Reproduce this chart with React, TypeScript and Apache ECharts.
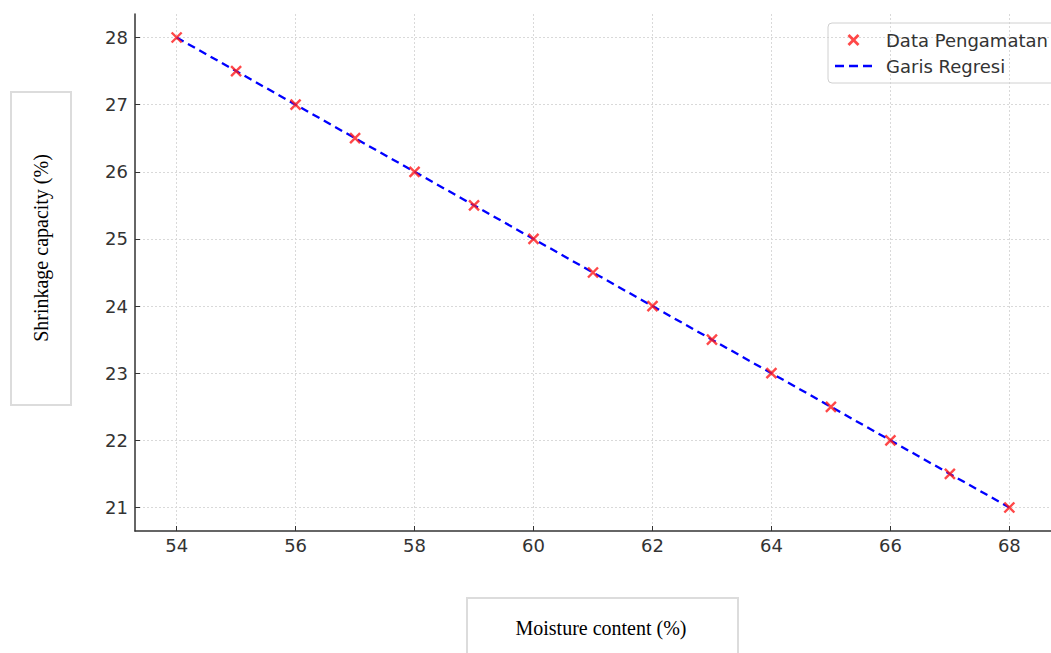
import React, { useEffect, useRef } from "react";
import * as echarts from "echarts";

const moisture = [54, 55, 56, 57, 58, 59, 60, 61, 62, 63, 64, 65, 66, 67, 68];
const shrinkage = [28, 27.5, 27, 26.5, 26, 25.5, 25, 24.5, 24, 23.5, 23, 22.5, 22, 21.5, 21];
const regression = [28, 27.5, 27, 26.5, 26, 25.5, 25, 24.5, 24, 23.5, 23, 22.5, 22, 21.5, 21];
const xTicks = [54, 56, 58, 60, 62, 64, 66, 68];
const yTicks = [21, 22, 23, 24, 25, 26, 27, 28];

const xLabel = "Moisture content (%)";
const yLabel = "Shrinkage capacity (%)";
const seriesNames = ["Data Pengamatan", "Garis Regresi"];

const crossPath = "path://M0,0L10,10M10,0L0,10";
const crossIcon = "path://M0,2L2,0L6,4L10,0L12,2L8,6L12,10L10,12L6,8L2,12L0,10L4,6Z";
const dashIcon = "path://M0,0h9v2.4h-9zM14,0h9v2.4h-9zM28,0h9v2.4h-9z";

export default function App() {
  const ref = useRef<HTMLDivElement>(null);
  useEffect(() => {
    if (!ref.current) return;
    const chart = echarts.init(ref.current, null, { renderer: "svg" });
    const tickFont = { fontFamily: "DejaVu Sans", fontSize: 18, color: "#333" };
    chart.setOption({
      animation: false,
      backgroundColor: "#fff",
      grid: { left: 135, top: 14, width: 926, bottom: 122, containLabel: false },
      xAxis: {
        type: "value",
        min: 53.3,
        max: 68.7,
        axisLine: { show: true, lineStyle: { color: "#333", width: 1.5 } },
        axisTick: { show: true, inside: true, length: 5, customValues: xTicks, lineStyle: { color: "#333" } },
        axisLabel: { ...tickFont, margin: 5, customValues: xTicks },
        splitLine: { show: true, lineStyle: { color: "#d9d9d9", type: [2, 2], width: 1 } },
      },
      yAxis: {
        type: "value",
        min: 20.65,
        max: 28.35,
        axisLine: { show: true, lineStyle: { color: "#333", width: 1.5 } },
        axisTick: { show: true, inside: true, length: 5, customValues: yTicks, lineStyle: { color: "#333" } },
        axisLabel: { ...tickFont, margin: 7, customValues: yTicks },
        splitLine: { show: true, lineStyle: { color: "#d9d9d9", type: [2, 2], width: 1 } },
      },
      legend: {
        left: 828,
        top: 23,
        orient: "vertical",
        itemGap: 8,
        itemWidth: 37,
        itemHeight: 12,
        padding: [8, 14, 8, 7],
        borderColor: "#d0d0d0",
        borderWidth: 1,
        borderRadius: 4,
        textStyle: { fontFamily: "DejaVu Sans", fontSize: 18, color: "#333", padding: [0, 0, 0, 9], lineHeight: 18 },
        data: [
          { name: seriesNames[0], icon: crossIcon, itemStyle: { color: "#ff1a1a", borderWidth: 0 } },
          { name: seriesNames[1], icon: dashIcon, itemStyle: { color: "#0000ff", borderWidth: 0 } },
        ],
      },
      series: [
        {
          name: seriesNames[1],
          type: "line",
          data: moisture.map((m, i) => [m, regression[i]]),
          showSymbol: false,
          symbol: "none",
          lineStyle: { color: "#0000ff", width: 2.3, type: [8, 5] },
          itemStyle: { color: "#0000ff" },
          z: 2,
        },
        {
          name: seriesNames[0],
          type: "scatter",
          data: moisture.map((m, i) => [m, shrinkage[i]]),
          symbol: crossPath,
          symbolSize: 10,
          itemStyle: { color: "none", borderColor: "#ff1a1a", borderWidth: 2.4 },
          z: 3,
        },
      ],
      graphic: [
        {
          type: "rect",
          shape: { x: 11, y: 92, width: 60, height: 313 },
          style: { fill: "#fff", stroke: "#dcdcdc", lineWidth: 2 },
          z: 10,
        },
        {
          type: "text",
          x: 41,
          y: 248,
          rotation: Math.PI / 2,
          style: {
            text: yLabel,
            font: "20px 'Liberation Serif', 'Times New Roman', serif",
            fill: "#000",
            align: "center",
            verticalAlign: "middle",
          },
          z: 11,
        },
        {
          type: "rect",
          shape: { x: 467, y: 598, width: 271, height: 70 },
          style: { fill: "#fff", stroke: "#dcdcdc", lineWidth: 2 },
          z: 10,
        },
        {
          type: "text",
          x: 601,
          y: 628,
          style: {
            text: xLabel,
            font: "20px 'Liberation Serif', 'Times New Roman', serif",
            fill: "#000",
            align: "center",
            verticalAlign: "middle",
          },
          z: 11,
        },
      ],
    });
    return () => chart.dispose();
  }, []);
  return (
    <div
      ref={ref}
      style={{ position: "fixed", left: 0, top: 0, width: 1051, height: 653, background: "#fff" }}
    />
  );
}
